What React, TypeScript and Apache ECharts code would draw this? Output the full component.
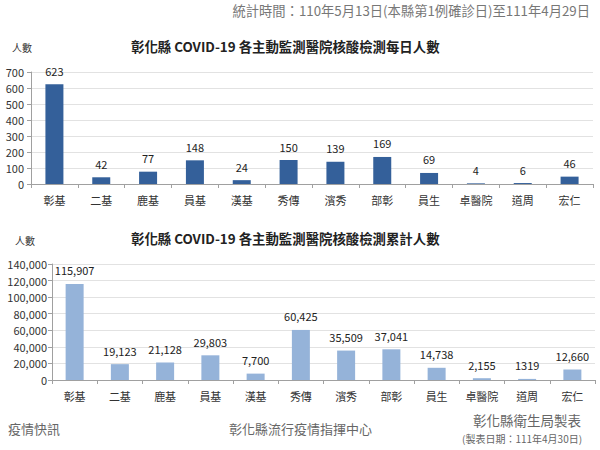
import React, { useEffect, useRef } from "react";
import * as echarts from "echarts";

const categories = ["彰基", "二基", "鹿基", "員基", "漢基", "秀傳", "濱秀", "部彰", "員生", "卓醫院", "道周", "宏仁"];
const dailyValues = [623, 42, 77, 148, 24, 150, 139, 169, 69, 4, 6, 46];
const cumulativeValues = [115907, 19123, 21128, 29803, 7700, 60425, 35509, 37041, 14738, 2155, 1319, 12660];
const cumulativeLabels = ["115,907", "19,123", "21,128", "29,803", "7,700", "60,425", "35,509", "37,041", "14,738", "2,155", "1319", "12,660"];

const FONT = "'Noto Sans CJK TC', 'Noto Sans', sans-serif";

export default function App() {
  const ref = useRef<HTMLDivElement>(null);
  useEffect(() => {
    if (!ref.current) return;
    const chart = echarts.init(ref.current, null, { renderer: "svg" });
    const axisCommon = {
      axisLine: { show: true, lineStyle: { color: "#a0a0a0" } },
      axisTick: { show: true, lineStyle: { color: "#a0a0a0" } },
    };
    chart.setOption({
      animation: false,
      backgroundColor: "#ffffff",
      textStyle: { fontFamily: FONT },
      grid: [
        { left: 31, right: 7, top: 72, height: 112 },
        { left: 52, right: 5, top: 264, height: 116 },
      ],
      xAxis: [
        {
          gridIndex: 0,
          type: "category",
          data: categories,
          ...axisCommon,
          axisTick: { show: true, length: 4, lineStyle: { color: "#a0a0a0" } },
          axisLabel: { fontSize: 11, color: "#333", margin: 10, fontFamily: FONT },
        },
        {
          gridIndex: 1,
          type: "category",
          data: categories,
          ...axisCommon,
          axisTick: { show: true, length: 4, lineStyle: { color: "#a0a0a0" } },
          axisLabel: { fontSize: 11, color: "#333", margin: 10, fontFamily: FONT },
        },
      ],
      yAxis: [
        {
          gridIndex: 0,
          type: "value",
          min: 0,
          max: 700,
          interval: 100,
          ...axisCommon,
          axisTick: { show: true, length: 4, lineStyle: { color: "#a0a0a0" } },
          axisLabel: { fontSize: 11, color: "#333", margin: 7, fontFamily: FONT },
          splitLine: { lineStyle: { color: "#e2e2e2" } },
        },
        {
          gridIndex: 1,
          type: "value",
          min: 0,
          max: 140000,
          interval: 20000,
          ...axisCommon,
          axisTick: { show: true, length: 4, lineStyle: { color: "#a0a0a0" } },
          axisLabel: {
            fontSize: 11,
            color: "#333",
            margin: 5,
            fontFamily: FONT,
            formatter: (v: number) => v.toLocaleString("en-US"),
          },
          splitLine: { lineStyle: { color: "#e2e2e2" } },
        },
      ],
      series: [
        {
          type: "bar",
          xAxisIndex: 0,
          yAxisIndex: 0,
          data: dailyValues,
          barWidth: 18,
          itemStyle: { color: "#34609a" },
          label: { show: true, position: "top", distance: 8, fontSize: 11, color: "#222", fontFamily: FONT },
        },
        {
          type: "bar",
          xAxisIndex: 1,
          yAxisIndex: 1,
          data: cumulativeValues,
          barWidth: 18,
          itemStyle: { color: "#95b3d9" },
          label: {
            show: true,
            position: "top",
            distance: 8,
            fontSize: 11,
            color: "#222",
            fontFamily: FONT,
            formatter: (p: any) => cumulativeLabels[p.dataIndex],
          },
        },
      ],
      graphic: [
        { type: "text", right: 10, top: 4, style: { text: "統計時間：110年5月13日(本縣第1例確診日)至111年4月29日", fontSize: 13.3, fill: "#777", fontFamily: FONT } },
        { type: "text", left: 131, top: 39, style: { text: "彰化縣 COVID-19 各主動監測醫院核酸檢測每日人數", fontSize: 13.4, fontWeight: "bold", fill: "#222", fontFamily: FONT } },
        { type: "text", left: 12, top: 42, style: { text: "人數", fontSize: 10, fill: "#333", fontFamily: FONT } },
        { type: "text", left: 131, top: 231, style: { text: "彰化縣 COVID-19 各主動監測醫院核酸檢測累計人數", fontSize: 13.4, fontWeight: "bold", fill: "#222", fontFamily: FONT } },
        { type: "text", left: 15, top: 235, style: { text: "人數", fontSize: 10, fill: "#333", fontFamily: FONT } },
        { type: "text", left: 8, top: 422, style: { text: "疫情快訊", fontSize: 13, fill: "#666", fontFamily: FONT } },
        { type: "text", left: 229, top: 422, style: { text: "彰化縣流行疫情指揮中心", fontSize: 13, fill: "#666", fontFamily: FONT } },
        { type: "text", left: 473, top: 413, style: { text: "彰化縣衛生局製表", fontSize: 13.5, fill: "#666", fontFamily: FONT } },
        { type: "text", left: 462, top: 433, style: { text: "(製表日期：111年4月30日)", fontSize: 10, fill: "#666", fontFamily: FONT } },
      ],
    });
    return () => chart.dispose();
  }, []);
  return <div ref={ref} style={{ width: 600, height: 450, position: "absolute", left: 0, top: 0 }} />;
}
